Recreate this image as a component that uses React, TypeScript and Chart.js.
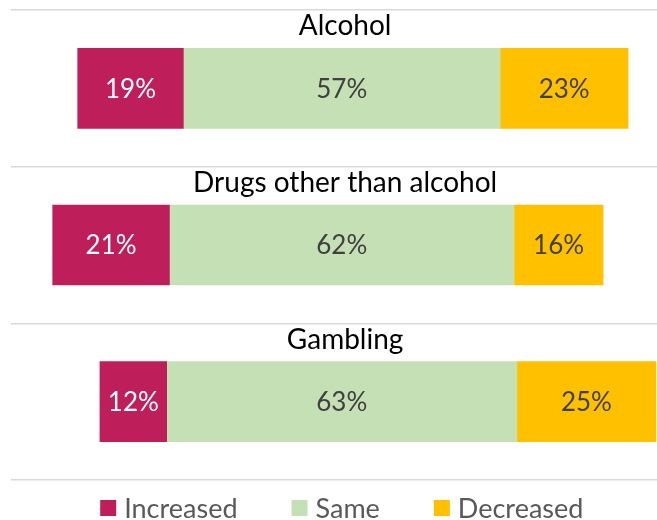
import React, { useEffect, useRef } from "react";
import { Chart, registerables } from "chart.js";

Chart.register(...registerables);

const categories = ["Alcohol", "Drugs other than alcohol", "Gambling"];
const increased = [19, 21, 12];
const same = [57, 62, 63];
const decreased = [23, 16, 25];
const seriesNames = ["Increased", "Same", "Decreased"];
const seriesColors = ["#BE1E5A", "#C5E0B4", "#FFC000"];
const labelColors = ["#FFFFFF", "#404040", "#404040"];

const FONT = "Lato, 'Liberation Sans', sans-serif";

const incRanges = categories.map((_, i) => [-(same[i] / 2 + increased[i]), -same[i] / 2]);
const sameRanges = categories.map((_, i) => [-same[i] / 2, same[i] / 2]);
const decRanges = categories.map((_, i) => [same[i] / 2, same[i] / 2 + decreased[i]]);
const valueSets = [increased, same, decreased];

const labelPlugin = {
  id: "barLabels",
  afterDatasetsDraw(chart: any) {
    const ctx = chart.ctx;
    ctx.save();
    ctx.textAlign = "center";
    ctx.textBaseline = "middle";
    ctx.font = `26px ${FONT}`;
    chart.data.datasets.forEach((ds: any, di: number) => {
      const meta = chart.getDatasetMeta(di);
      meta.data.forEach((el: any, i: number) => {
        const cx = (el.x + el.base) / 2;
        ctx.fillStyle = labelColors[di];
        ctx.fillText(`${valueSets[di][i]}%`, cx, el.y + 1);
      });
    });
    // category titles
    const meta0 = chart.getDatasetMeta(1);
    const xs = chart.scales.x;
    ctx.font = `28px ${FONT}`;
    ctx.fillStyle = "#000000";
    meta0.data.forEach((el: any, i: number) => {
      const top = el.y - el.height / 2;
      ctx.fillText(categories[i], xs.getPixelForValue(0.6), top - 22);
    });
    // legend
    ctx.font = `27px ${FONT}`;
    ctx.textAlign = "left";
    const box = 16;
    const gapText = 8;
    const gapItem = 54;
    const widths = seriesNames.map((n) => box + gapText + ctx.measureText(n).width);
    const total = widths.reduce((a, b) => a + b, 0) + gapItem * (widths.length - 1);
    let x = xs.getPixelForValue(0) - total / 2;
    const cy = chart.chartArea.bottom + 28;
    seriesNames.forEach((n, k) => {
      ctx.fillStyle = seriesColors[k];
      ctx.fillRect(x, cy - box / 2, box, box);
      ctx.fillStyle = "#595959";
      ctx.fillText(n, x + box + gapText, cy + 1);
      x += widths[k] + gapItem;
    });
    ctx.restore();
  },
};

export default function App() {
  const ref = useRef<HTMLCanvasElement | null>(null);
  useEffect(() => {
    if (!ref.current) return;
    const chart = new Chart(ref.current, {
      type: "bar",
      data: {
        labels: categories,
        datasets: [incRanges, sameRanges, decRanges].map((d, k) => ({
          label: seriesNames[k],
          data: d as any,
          backgroundColor: seriesColors[k],
          borderWidth: 0,
          grouped: false,
          barThickness: 80,
        })),
      },
      options: {
        indexAxis: "y",
        animation: false,
        responsive: true,
        maintainAspectRatio: false,
        layout: { padding: { left: 11, right: 0, top: 10, bottom: 40 } },
        scales: {
          x: { display: false, min: -59.5, max: 56.7 },
          y: {
            display: true,
            ticks: { display: false },
            border: { display: false },
            grid: { offset: true, drawTicks: false, color: "#D9D9D9", lineWidth: 1.5 },
          },
        },
        plugins: {
          tooltip: { enabled: false },
          legend: { display: false },
        },
      },
      plugins: [labelPlugin],
    });
    return () => chart.destroy();
  }, []);
  return (
    <div style={{ position: "absolute", left: 0, top: 0, width: 657, height: 520 }}>
      <canvas ref={ref} />
    </div>
  );
}
